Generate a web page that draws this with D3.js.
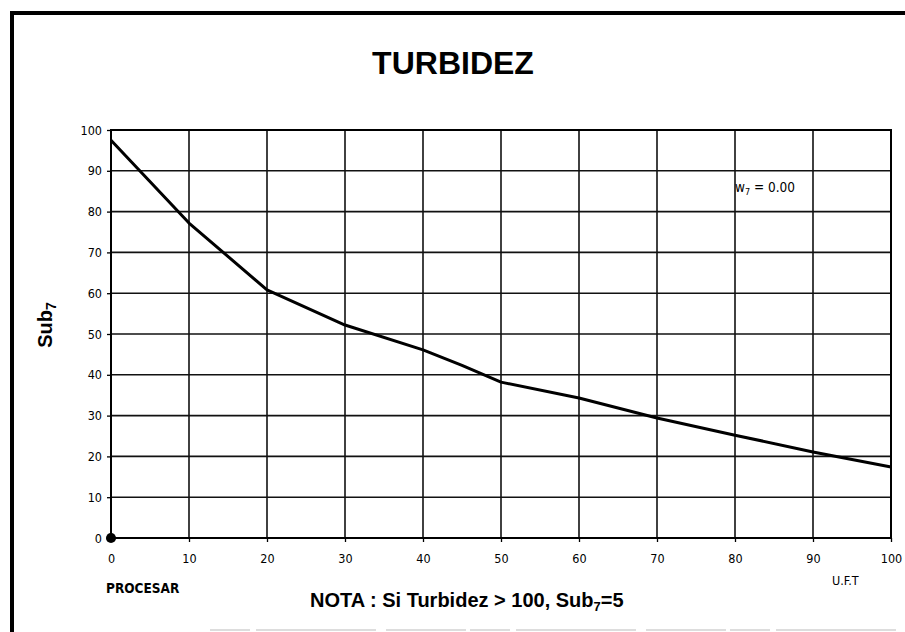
<!DOCTYPE html>
<html>
<head>
<meta charset="utf-8">
<script src="https://cdn.jsdelivr.net/npm/d3@7"></script>
<style>
  body { margin: 0; background: #fff; }
  svg { display: block; }
  .tick text { font-family: "DejaVu Sans Condensed", "Liberation Sans Narrow", sans-serif; font-stretch: condensed; font-size: 12.5px; fill: #000; }
</style>
</head>
<body>
<svg id="chart"></svg>
<script>
var w = 905;
var h = 632;

// curve values
var turbidez = [0, 10, 20, 30, 40, 45, 50, 60, 70, 80, 90, 100];
var sub7 = [97.5, 77.2, 60.8, 52.2, 46.1, 42.3, 38.2, 34.3, 29.4, 25.2, 21.1, 17.4];
var xTicks = [0, 10, 20, 30, 40, 50, 60, 70, 80, 90, 100];
var yTicks = [0, 10, 20, 30, 40, 50, 60, 70, 80, 90, 100];
var marker = [[0, 0]];

var margin = {left: 111, right: 14, top: 130, bottom: 94};

var svg = d3.select("#chart")
    .attr("width", w)
    .attr("height", h);

var x = d3.scaleLinear().domain([0, 100]).range([margin.left, w - margin.right]);
var y = d3.scaleLinear().domain([0, 100]).range([h - margin.bottom, margin.top]);

// frame: thick top and left lines
svg.append("line")
    .attr("x1", 10).attr("x2", w).attr("y1", 13).attr("y2", 13)
    .style("stroke", "#000").style("stroke-width", 4);
svg.append("line")
    .attr("x1", 12).attr("x2", 12).attr("y1", 11).attr("y2", h)
    .style("stroke", "#000").style("stroke-width", 4);
svg.append("line")
    .attr("x1", 210).attr("x2", w).attr("y1", 630).attr("y2", 630)
    .style("stroke", "#bbb").style("stroke-width", 1)
    .style("stroke-dasharray", "40,6,120,10,80,4");

svg.append("text")
    .attr("x", 453).attr("y", 74)
    .attr("text-anchor", "middle")
    .style("font-family", "'Liberation Sans', Arial, sans-serif")
    .style("font-weight", "bold")
    .style("font-size", "32px")
    .text("TURBIDEZ");

// grid
var grid = svg.append("g");
grid.selectAll(".gx")
    .data(xTicks)
    .enter().append("line")
    .attr("x1", d => x(d)).attr("x2", d => x(d))
    .attr("y1", y(100)).attr("y2", y(0))
    .style("stroke", "#111").style("stroke-width", 1.6);
grid.selectAll(".gy")
    .data(yTicks)
    .enter().append("line")
    .attr("x1", x(0)).attr("x2", x(100))
    .attr("y1", d => y(d)).attr("y2", d => y(d))
    .style("stroke", "#111").style("stroke-width", 1.6);

var xAxis = svg.append("g")
    .attr("transform", "translate(0," + y(0) + ")")
    .call(d3.axisBottom(x).tickValues(xTicks).tickSize(4).tickPadding(12));
var yAxis = svg.append("g")
    .attr("transform", "translate(" + x(0) + ",0)")
    .call(d3.axisLeft(y).tickValues(yTicks).tickSize(4).tickPadding(5));
svg.selectAll(".domain").remove();
svg.selectAll(".tick line").style("stroke", "#000").style("stroke-width", 1.3);

svg.append("rect")
    .attr("x", x(0)).attr("y", y(100))
    .attr("width", x(100) - x(0)).attr("height", y(0) - y(100))
    .style("fill", "none").style("stroke", "#000").style("stroke-width", 2);

var line = d3.line()
    .x((d, i) => x(turbidez[i]))
    .y(d => y(d));

svg.append("path")
    .datum(sub7)
    .attr("d", line)
    .style("fill", "none")
    .style("stroke", "#000")
    .style("stroke-width", 3)
    .style("stroke-linejoin", "round");

svg.selectAll(".marker")
    .data(marker)
    .enter().append("path")
    .attr("d", d3.symbol().type(d3.symbolCircle).size(80))
    .attr("transform", d => "translate(" + x(d[0]) + "," + y(d[1]) + ")")
    .style("fill", "#000");

// axis titles
svg.append("text")
    .attr("transform", "translate(52,325) rotate(-90)")
    .attr("text-anchor", "middle")
    .style("font-family", "'Liberation Sans', Arial, sans-serif")
    .style("font-weight", "bold")
    .style("font-size", "20px")
    .html('Sub<tspan font-size="14px" dy="4">7</tspan>');

svg.append("text")
    .attr("x", 106).attr("y", 593)
    .style("font-family", "'DejaVu Sans Condensed', 'Liberation Sans', sans-serif")
    .style("font-weight", "bold")
    .style("font-size", "13.5px")
    .text("PROCESAR");

svg.append("text")
    .attr("x", 832).attr("y", 585)
    .style("font-family", "'DejaVu Sans Condensed', 'Liberation Sans', sans-serif")
    .style("font-size", "12.5px")
    .text("U.F.T");

svg.append("text")
    .attr("x", 310).attr("y", 607)
    .style("font-family", "'Liberation Sans', Arial, sans-serif")
    .style("font-weight", "bold")
    .style("font-size", "20px")
    .html('NOTA : Si Turbidez &gt; 100, Sub<tspan font-size="13px" dy="4">7</tspan><tspan dy="-4">=5</tspan>');

svg.append("text")
    .attr("x", 735).attr("y", 192)
    .style("font-family", "'DejaVu Sans Condensed', 'Liberation Sans', sans-serif")
    .style("font-size", "13.5px")
    .html('w<tspan font-size="9px" dy="3">7</tspan><tspan dy="-3"> = 0.00</tspan>');
</script>
</body>
</html>
